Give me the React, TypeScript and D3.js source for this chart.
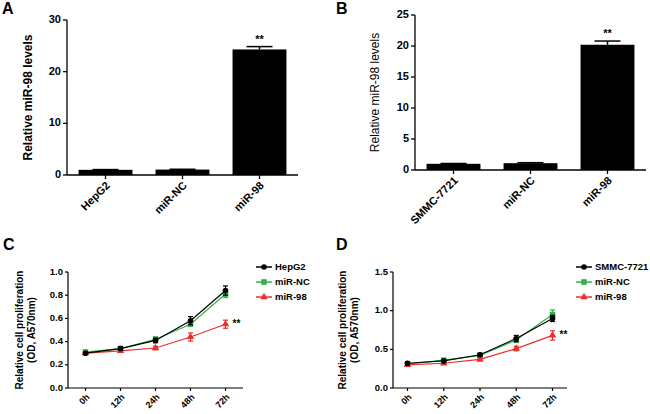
import * as d3 from 'd3';

// bar panels
const barCatsA = ['HepG2', 'miR-NC', 'miR-98'];
const barValsA = [1.0, 1.05, 24.3];
const barErrA = [0.05, 0.06, 0.55];
const barTicksA = [0, 10, 20, 30];

const barCatsB = ['SMMC-7721', 'miR-NC', 'miR-98'];
const barValsB = [1.0, 1.1, 20.2];
const barErrB = [0.05, 0.08, 0.6];
const barTicksB = [0, 5, 10, 15, 20, 25];

// line panels
const timePoints = ['0h', '12h', '24h', '48h', '72h'];

const cLegend = ['HepG2', 'miR-NC', 'miR-98'];
const cParent = [0.3, 0.34, 0.41, 0.58, 0.84];
const cParentErr = [0.01, 0.015, 0.02, 0.035, 0.04];
const cNC = [0.31, 0.34, 0.42, 0.55, 0.81];
const cNCErr = [0.01, 0.01, 0.02, 0.02, 0.03];
const c98 = [0.3, 0.32, 0.345, 0.44, 0.55];
const c98Err = [0.01, 0.01, 0.015, 0.035, 0.035];
const cTicks = [0, 0.2, 0.4, 0.6, 0.8, 1.0];

const dLegend = ['SMMC-7721', 'miR-NC', 'miR-98'];
const dParent = [0.32, 0.35, 0.43, 0.64, 0.9];
const dParentErr = [0.02, 0.02, 0.02, 0.04, 0.04];
const dNC = [0.31, 0.36, 0.42, 0.62, 0.95];
const dNCErr = [0.02, 0.02, 0.02, 0.03, 0.06];
const d98 = [0.3, 0.32, 0.37, 0.51, 0.68];
const d98Err = [0.01, 0.01, 0.02, 0.03, 0.06];
const dTicks = [0, 0.5, 1.0, 1.5];

const FONT = '"Liberation Sans", Arial, sans-serif';
const colors = ['#000000', '#2db34a', '#e8302a'];

interface BarPanelProps {
  letter: string;
  letterX: number;
  cats: string[];
  vals: number[];
  errs: number[];
  ticks: number[];
  x0: number;
  x1: number;
  y0: number;
  y1: number;
  labelX: number;
  labelBold: boolean;
}

function BarPanel({ letter, letterX, cats, vals, errs, ticks, x0, x1, y0, y1, labelX, labelBold }: BarPanelProps) {
  const x = d3.scaleBand<string>().domain(cats).range([x0, x1]).paddingInner(0.3).paddingOuter(0.15);
  const y = d3.scaleLinear().domain([0, ticks[ticks.length - 1]]).range([y0, y1]);
  const bw = x.bandwidth();
  const last = cats.length - 1;
  return (
    <g fontFamily={FONT}>
      <text x={letterX} y={14} fontSize={16} fontWeight="bold">{letter}</text>
      {cats.map((c, i) => (
        <g key={c}>
          <rect x={x(c)!} y={y(vals[i])} width={bw} height={y0 - y(vals[i])} fill="#000" />
          <line x1={x(c)! + bw / 2} x2={x(c)! + bw / 2} y1={y(vals[i])} y2={y(vals[i] + errs[i])} stroke="#000" strokeWidth={1.5} />
          <line x1={x(c)! + bw / 2 - 13} x2={x(c)! + bw / 2 + 13} y1={y(vals[i] + errs[i])} y2={y(vals[i] + errs[i])} stroke="#000" strokeWidth={1.5} />
          <line x1={x(c)! + bw / 2} x2={x(c)! + bw / 2} y1={y0} y2={y0 + 4} stroke="#000" strokeWidth={1.3} />
          <text
            transform={`translate(${x(c)! + bw / 2 + 3},${y0 + 9}) rotate(-45)`}
            textAnchor="end"
            dominantBaseline="middle"
            fontSize={11}
            fontWeight="bold"
          >
            {c}
          </text>
        </g>
      ))}
      <text
        x={x(cats[last])! + bw / 2}
        y={y(vals[last] + errs[last]) - 4}
        textAnchor="middle"
        fontSize={11}
        fontWeight="bold"
      >
        **
      </text>
      <line x1={x0} x2={x0} y1={y0} y2={y1} stroke="#000" strokeWidth={1.3} />
      <line x1={x0} x2={x1} y1={y0} y2={y0} stroke="#000" strokeWidth={1.3} />
      {ticks.map((t) => (
        <g key={t}>
          <line x1={x0 - 4} x2={x0} y1={y(t)} y2={y(t)} stroke="#000" strokeWidth={1.3} />
          <text x={x0 - 6} y={y(t)} textAnchor="end" dominantBaseline="middle" fontSize={11} fontWeight="bold">
            {t}
          </text>
        </g>
      ))}
      <text
        transform={`translate(${labelX},${(y0 + y1) / 2}) rotate(-90)`}
        textAnchor="middle"
        fontSize={12}
        fontWeight={labelBold ? 'bold' : 'normal'}
      >
        Relative miR-98 levels
      </text>
    </g>
  );
}

interface LinePanelProps {
  letter: string;
  letterX: number;
  legend: string[];
  series: number[][];
  errors: number[][];
  ticks: number[];
  tickFmt: (v: number) => string;
  x0: number;
  x1: number;
  y0: number;
  y1: number;
  pad: number;
  labelX: number;
  legendX: number;
}

function Marker({ kind, cx, cy }: { kind: number; cx: number; cy: number }) {
  if (kind === 0) return <circle cx={cx} cy={cy} r={2.8} fill={colors[0]} />;
  if (kind === 1) return <rect x={cx - 2.8} y={cy - 2.8} width={5.6} height={5.6} fill={colors[1]} />;
  const tri = d3.symbol(d3.symbolTriangle, 24)();
  return <path d={tri!} transform={`translate(${cx},${cy})`} fill={colors[2]} />;
}

function LinePanel({ letter, letterX, legend, series, errors, ticks, tickFmt, x0, x1, y0, y1, pad, labelX, legendX }: LinePanelProps) {
  const x = d3.scalePoint<string>().domain(timePoints).range([x0, x1]).padding(pad);
  const y = d3.scaleLinear().domain([0, ticks[ticks.length - 1]]).range([y0, y1]);
  const line = d3
    .line<number>()
    .x((_, i) => x(timePoints[i])!)
    .y((v) => y(v));
  const order = [1, 2, 0];
  const lastX = x(timePoints[timePoints.length - 1])!;
  const redLast = series[2][series[2].length - 1];
  return (
    <g fontFamily={FONT}>
      <text x={letterX} y={250} fontSize={16} fontWeight="bold">{letter}</text>
      {order.map((k) => (
        <g key={k}>
          <path d={line(series[k])!} fill="none" stroke={colors[k]} strokeWidth={1.2} />
          {series[k].map((v, i) => {
            const cx = x(timePoints[i])!;
            const e = errors[k][i];
            return (
              <g key={i}>
                <line x1={cx} x2={cx} y1={y(v - e)} y2={y(v + e)} stroke={colors[k]} strokeWidth={1.2} />
                <line x1={cx - 2.5} x2={cx + 2.5} y1={y(v - e)} y2={y(v - e)} stroke={colors[k]} strokeWidth={1.2} />
                <line x1={cx - 2.5} x2={cx + 2.5} y1={y(v + e)} y2={y(v + e)} stroke={colors[k]} strokeWidth={1.2} />
                <Marker kind={k} cx={cx} cy={y(v)} />
              </g>
            );
          })}
        </g>
      ))}
      <text x={lastX + 7} y={y(redLast)} dominantBaseline="middle" fontSize={10} fontWeight="bold">**</text>
      <line x1={x0} x2={x0} y1={y0} y2={y1} stroke="#000" strokeWidth={1.2} />
      <line x1={x0} x2={x1} y1={y0} y2={y0} stroke="#000" strokeWidth={1.2} />
      {ticks.map((t) => (
        <g key={t}>
          <line x1={x0 - 3} x2={x0} y1={y(t)} y2={y(t)} stroke="#000" strokeWidth={1.2} />
          <text x={x0 - 5} y={y(t)} textAnchor="end" dominantBaseline="middle" fontSize={9.5} fontWeight="bold">
            {tickFmt(t)}
          </text>
        </g>
      ))}
      {timePoints.map((tp) => (
        <g key={tp}>
          <line x1={x(tp)!} x2={x(tp)!} y1={y0} y2={y0 + 3} stroke="#000" strokeWidth={1.2} />
          <text
            transform={`translate(${x(tp)! + 3},${y0 + 8}) rotate(-45)`}
            textAnchor="end"
            dominantBaseline="middle"
            fontSize={9}
            fontWeight="bold"
          >
            {tp}
          </text>
        </g>
      ))}
      <text transform={`translate(${labelX},${(y0 + y1) / 2}) rotate(-90)`} textAnchor="middle" fontSize={10} fontWeight="bold">
        <tspan x={0} dy={0}>Relative cell proliferation</tspan>
        <tspan x={0} dy={12}>(OD, A570nm)</tspan>
      </text>
      {legend.map((name, k) => {
        const ly = 267 + k * 15;
        return (
          <g key={name}>
            <line x1={legendX} x2={legendX + 16} y1={ly} y2={ly} stroke={colors[k]} strokeWidth={1.5} />
            <Marker kind={k} cx={legendX + 8} cy={ly} />
            <text x={legendX + 19} y={ly} dominantBaseline="middle" fontSize={9.5} fontWeight="bold">
              {name}
            </text>
          </g>
        );
      })}
    </g>
  );
}

export default function App() {
  return (
    <svg width={650} height={414} style={{ position: 'absolute', left: 0, top: 0, background: '#fff' }}>
      <rect width={650} height={414} fill="#fff" />
      <BarPanel
        letter="A"
        letterX={2}
        cats={barCatsA}
        vals={barValsA}
        errs={barErrA}
        ticks={barTicksA}
        x0={67}
        x1={298}
        y0={175}
        y1={20}
        labelX={32}
        labelBold={true}
      />
      <BarPanel
        letter="B"
        letterX={336}
        cats={barCatsB}
        vals={barValsB}
        errs={barErrB}
        ticks={barTicksB}
        x0={415}
        x1={646}
        y0={170}
        y1={15}
        labelX={379}
        labelBold={false}
      />
      <LinePanel
        letter="C"
        letterX={3}
        legend={cLegend}
        series={[cParent, cNC, c98]}
        errors={[cParentErr, cNCErr, c98Err]}
        ticks={cTicks}
        tickFmt={d3.format('.1f')}
        x0={68}
        x1={243}
        y0={388}
        y1={272}
        pad={0.5}
        labelX={23}
        legendX={256}
      />
      <LinePanel
        letter="D"
        letterX={336}
        legend={dLegend}
        series={[dParent, dNC, d98]}
        errors={[dParentErr, dNCErr, d98Err]}
        ticks={dTicks}
        tickFmt={d3.format('.1f')}
        x0={393}
        x1={567}
        y0={388}
        y1={272}
        pad={0.4}
        labelX={346}
        legendX={576}
      />
    </svg>
  );
}
